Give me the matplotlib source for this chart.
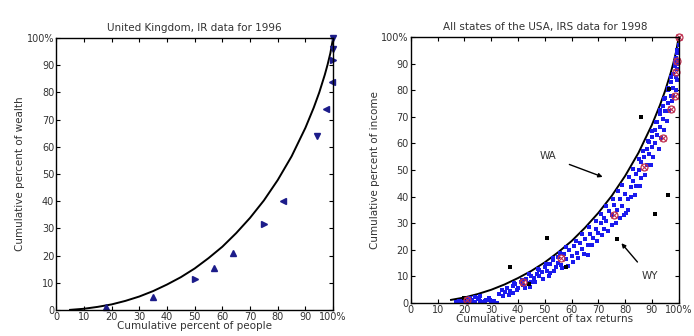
import numpy as np
import matplotlib
matplotlib.use("Agg")
import matplotlib.pyplot as plt

plt.rcParams['font.family'] = ['DejaVu Sans']

# theoretical curve
curve_x = [5, 10, 15, 20, 25, 30, 35, 40, 45, 50, 55, 60, 65, 70, 75, 80, 85, 90, 93, 95, 97, 98, 99, 100]
curve_y = [0.1, 0.5, 1.2, 2.1, 3.4, 5.0, 7.0, 9.4, 12.1, 15.3, 19.1, 23.3, 28.3, 33.9, 40.3, 47.8, 56.5, 67.0, 74.4, 80.0, 86.5, 90.2, 94.4, 100]

# UK 1996 points
uk_x = [18, 35, 50, 57, 64, 75, 82, 94, 97.5, 99.5, 99.8, 100, 100]
uk_y = [1, 5, 11.5, 15.5, 21, 31.5, 40, 64, 74, 84, 92, 96, 100]
uk_marker = ['^', '^', '>', '^', '^', '>', '<', 'v', '<', '<', '>', 'v', 'v']

# USA 1998, all states (blue)
us_x = [17, 18, 19, 20, 21, 22, 22, 23, 24, 24, 25, 26, 26, 27, 28, 29, 30, 31, 32,
        33, 34, 35, 36, 37, 38, 38, 39, 40, 41, 42, 43, 44, 45, 45, 46, 47, 48,
        48, 49, 50, 51, 52, 52, 53, 54, 55, 55, 56, 57, 58, 59, 60, 61, 62, 63, 64, 65, 66, 66,
        67, 68, 69, 70, 71, 72, 72, 73, 74, 75, 75, 76, 77, 78, 78, 79, 80, 81, 81, 82,
        82, 83, 84, 84, 85, 86, 86, 87, 88, 88, 89, 89, 90, 90, 91, 91, 92,
        92, 93, 93, 94, 94, 95, 95, 96, 96, 97, 97, 98, 98, 98.5, 99, 99, 99.5, 99.5, 100, 100,
        # second sweep, states a little further from the curve
        19.5, 21.5, 23.5, 25.5, 27.5, 29.5, 34.5, 36.5, 39.5, 42.5, 44.5, 46.5, 49.5, 51.5, 53.5,
        56.5, 58.5, 60.5, 62.5, 64.5, 67.5, 69.5, 71.5, 73.5, 76.5, 79.5, 80.5, 83.5, 85.5, 87.5,
        89.5, 90.5, 92.5, 93.5, 94.5, 95.5, 96.5, 97.5, 98, 99, 99.5, 99.8,
        # third sweep, states hugging the curve
        38.5, 41.5, 44, 47.5, 50.5, 53, 55.5, 58, 61.5, 64, 66.5, 69, 71, 73, 75.5, 77.5,
        79, 81.5, 83, 85, 86.5, 88.5, 90, 91.5, 93, 94.5, 96, 97, 98.5, 99.2]
us_y = [0.3, 0.8, 0.2, 1.2, 0.5, 1.8, 0.2, 1.0, 2.2, 0.4, 1.5, 0.8, 2.8, 0.3, 1.2, 2.0, 0.5, 0.9, 0.2,
        3.5, 4.8, 4.0, 5.8, 4.5, 6.5, 3.8, 7.2, 5.5, 8.0, 6.8, 9.0, 7.5, 10.2, 8.0, 9.5, 11.0, 10.0,
        12.5, 11.5, 13.5, 12.0, 14.8, 11.2, 16.0, 13.5, 17.5, 15.0, 14.2, 18.5, 16.5, 20.0, 17.8, 21.5, 19.0, 22.5, 20.5, 24.0, 22.0, 18.0,
        26.0, 24.5, 28.0, 26.5, 30.0, 28.0, 32.0, 31.0, 34.5, 29.5, 33.0, 37.0, 35.0, 39.0, 32.0, 36.5, 41.0, 35.0, 39.0, 43.5,
        40.0, 46.0, 44.0, 48.5, 50.0, 47.0, 53.0, 55.0, 52.0, 58.0, 56.0, 60.5, 58.5, 62.5, 60.0, 65.0, 63.0,
        68.0, 66.0, 71.0, 69.0, 74.0, 72.0, 77.0, 75.0, 80.0, 78.0, 83.0, 81.0, 86.0, 89.0, 85.0, 92.0, 88.0, 95.0, 91.0, 97.0,
        0.6, 1.4, 0.3, 2.0, 0.6, 1.1, 2.8, 3.2, 5.0, 5.5, 6.2, 7.8, 9.2, 10.0, 12.0,
        13.0, 14.0, 15.5, 17.0, 18.5, 22.0, 23.5, 25.5, 27.0, 30.0, 33.0, 34.0, 40.5, 44.0, 48.0,
        52.0, 55.0, 58.0, 62.0, 65.0, 68.5, 72.0, 76.0, 78.0, 80.0, 84.0, 90.0,
        7.5, 8.5, 10.8, 12.8, 14.5, 16.8, 18.8, 21.0, 23.2, 26.0, 28.5, 31.0, 33.5, 36.5, 39.0, 42.0,
        44.5, 47.5, 50.5, 54.0, 57.0, 61.0, 64.5, 68.0, 72.5, 76.5, 81.0, 85.0, 90.5, 94.0]

# USA total (red circles)
tot_x = [21, 42, 56, 76, 87, 94, 97, 98.5, 99, 99.5, 100]
tot_y = [1, 8, 17, 33, 51, 62, 73, 78, 87, 91, 100]

# outlying states (black)
out_x = [20, 37, 44, 51, 58, 77, 86, 91, 96, 96.3]
out_y = [2, 13.5, 7, 24.5, 13.5, 24, 70, 33.5, 40.5, 80.5]

tick_vals = [0, 10, 20, 30, 40, 50, 60, 70, 80, 90, 100]
tick_labels = ['0', '10', '20', '30', '40', '50', '60', '70', '80', '90', '100%']

fig = plt.figure(figsize=(6.94, 3.36), dpi=100)
ax1 = fig.add_axes([0.081, 0.077, 0.399, 0.81])
ax2 = fig.add_axes([0.592, 0.098, 0.386, 0.792])

fs = 7.5
tfs = 7

def style(ax, title, xlabel, ylabel):
    ax.set_xlim(0, 100)
    ax.set_ylim(0, 100)
    ax.set_xticks(tick_vals)
    ax.set_xticklabels(tick_labels, fontsize=tfs, color='#333333')
    ax.set_yticks(tick_vals)
    ax.set_yticklabels(tick_labels, fontsize=tfs, color='#333333')
    ax.tick_params(direction='in', top=True, right=True, length=3, width=0.8, pad=1.5)
    ax.set_title(title, fontsize=fs, color='#333333', pad=5)
    ax.set_xlabel(xlabel, fontsize=fs, color='#333333', labelpad=-1)
    ax.set_ylabel(ylabel, fontsize=fs, color='#333333', labelpad=1)
    for s in ax.spines.values():
        s.set_linewidth(1.0)

# left panel
ax1.plot(curve_x, curve_y, color='black', lw=1.4)
for x, y, m in zip(uk_x, uk_y, uk_marker):
    ax1.plot(x, y, marker=m, color='#1c1c8a', ms=4, ls='none', clip_on=False)
style(ax1, 'United Kingdom, IR data for 1996', 'Cumulative percent of people', 'Cumulative percent of wealth')

# right panel
ax2.plot(curve_x[2:], curve_y[2:], color='black', lw=1.4)
ax2.plot(us_x, us_y, 's', color='#1a1aee', ms=3.0, mew=0, ls='none')
ax2.plot(out_x, out_y, 's', color='black', ms=2.8, mew=0, ls='none')
ax2.plot(tot_x, tot_y, 'o', mfc='none', mec='#c03050', ms=5, mew=0.9, ls='none', clip_on=False)
ax2.plot(tot_x, tot_y, 'x', color='#c03050', ms=4, mew=0.8, ls='none', clip_on=False)
style(ax2, 'All states of the USA, IRS data for 1998', 'Cumulative percent of tax returns', 'Cumulative percent of income')

ax2.annotate('WA', xy=(71.6, 47.4), xytext=(48, 54), fontsize=fs, color='#333333',
             arrowprops=dict(arrowstyle='-|>', color='black', lw=1.0, mutation_scale=6,
                             shrinkA=8, shrinkB=0))
ax2.annotate('WY', xy=(78.6, 22.5), xytext=(86, 9), fontsize=fs, color='#333333',
             arrowprops=dict(arrowstyle='-|>', color='black', lw=1.0, mutation_scale=6,
                             shrinkA=6, shrinkB=0))

fig.savefig('out.png', dpi=100)
